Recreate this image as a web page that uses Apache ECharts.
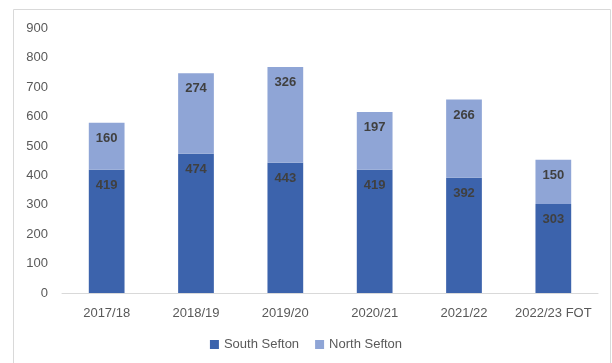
<!DOCTYPE html>
<html>
<head>
<meta charset="utf-8">
<script src="https://cdn.jsdelivr.net/npm/echarts@6/dist/echarts.min.js"></script>
<style>
html,body{margin:0;padding:0;background:#fff;}
#chart{width:612px;height:363px;}
</style>
</head>
<body>
<div id="chart"></div>
<script>
var years = ['2017/18', '2018/19', '2019/20', '2020/21', '2021/22', '2022/23 FOT'];
var southSefton = [419, 474, 443, 419, 392, 303];
var northSefton = [160, 274, 326, 197, 266, 150];
var yTicks = [0, 100, 200, 300, 400, 500, 600, 700, 800, 900];

var chart = echarts.init(document.getElementById('chart'));
var fontName = 'Liberation Sans';

var option = {
	animation: false,
	textStyle: { fontFamily: fontName },
	graphic: [{
		type: 'rect',
		shape: { x: 13.5, y: 9.5, width: 597, height: 400 },
		style: { fill: 'none', stroke: '#d9d9d9', lineWidth: 1 },
		silent: true
	}],
	grid: {
		left: 62,
		right: 14,
		top: 28.5,
		bottom: 70,
		containLabel: false
	},
	legend: {
		bottom: 7,
		left: 'center',
		itemWidth: 9,
		itemHeight: 9,
		itemGap: 16,
		icon: 'rect',
		textStyle: { fontSize: 13, color: '#595959', fontFamily: fontName },
		data: ['South Sefton', 'North Sefton']
	},
	xAxis: {
		type: 'category',
		data: years,
		axisTick: { show: false },
		axisLine: { lineStyle: { color: '#d9d9d9', width: 1 } },
		axisLabel: { fontSize: 13, color: '#595959', margin: 14, interval: 0 }
	},
	yAxis: {
		type: 'value',
		min: yTicks[0],
		max: yTicks[yTicks.length - 1],
		interval: 100,
		splitLine: { show: false },
		axisLine: { show: false },
		axisTick: { show: false },
		axisLabel: { fontSize: 13, color: '#595959', margin: 14 }
	},
	series: [
		{
			name: 'South Sefton',
			type: 'bar',
			stack: 'total',
			barWidth: '40%',
			data: southSefton,
			itemStyle: { color: '#3c63ac' },
			label: {
				show: true,
				position: 'insideTop',
				distance: 9,
				fontSize: 13,
				fontWeight: 'bold',
				color: '#404040'
			}
		},
		{
			name: 'North Sefton',
			type: 'bar',
			stack: 'total',
			barWidth: '40%',
			data: northSefton,
			itemStyle: { color: '#8fa5d6' },
			label: {
				show: true,
				position: 'insideTop',
				distance: 9,
				fontSize: 13,
				fontWeight: 'bold',
				color: '#404040'
			}
		}
	]
};
chart.setOption(option);
</script>
</body>
</html>
